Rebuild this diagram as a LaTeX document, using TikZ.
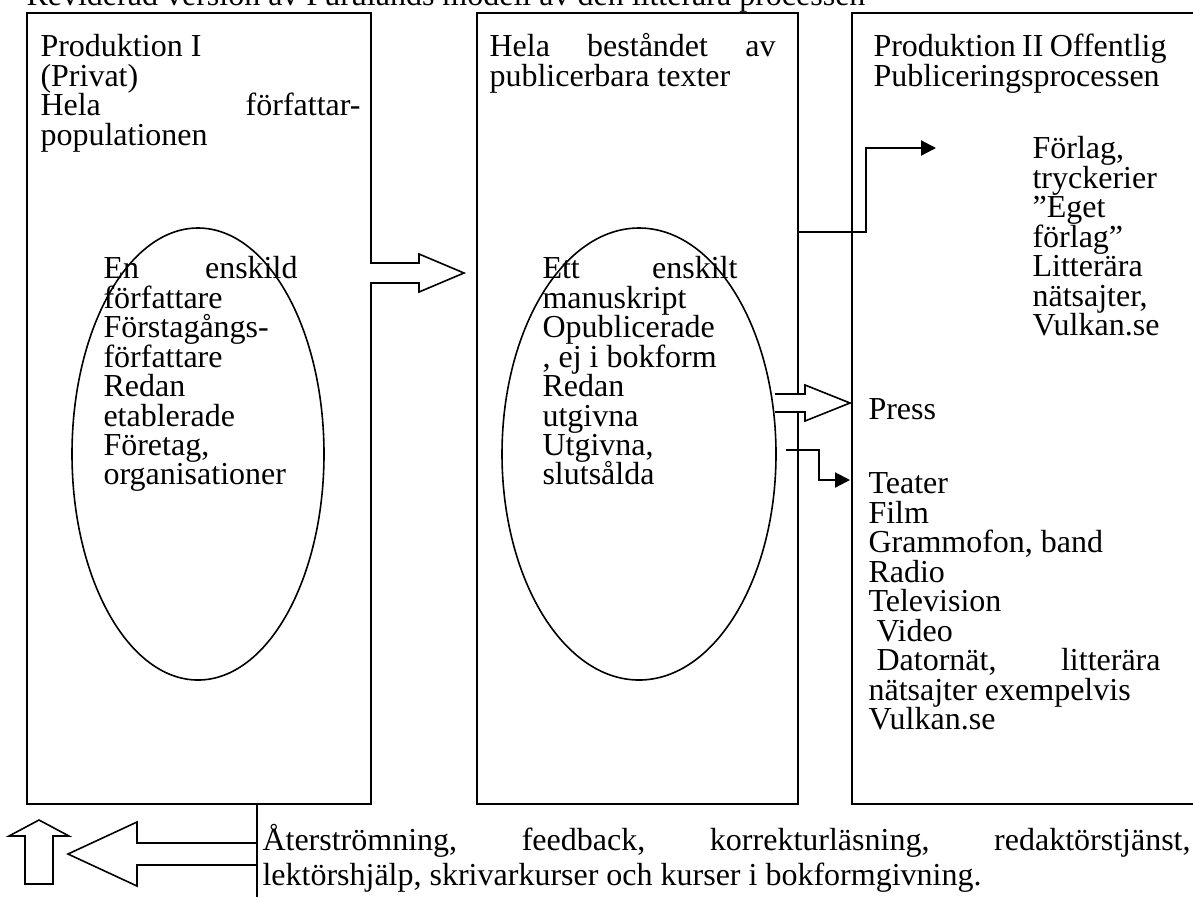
\documentclass[tikz,border=0pt]{standalone}
\usepackage{fontspec}
\setmainfont{Liberation Serif}
\usetikzlibrary{arrows.meta}
\usetikzlibrary{shapes.geometric}
\usetikzlibrary{positioning}
\newlength\pxu
\setlength\pxu{0.375pt}
\setlength\parindent{0pt}
\tolerance=9999
\hbadness=10000
\newcommand\topstrut{\rule{0pt}{30\pxu}}
\newcommand\diagfont{\fontsize{12}{11.06}\selectfont\lineskiplimit=-20pt\relax}
\newcommand\footfont{\fontsize{12}{13.1}\selectfont\lineskiplimit=-20pt\relax}

\begin{document}
\begin{tikzpicture}[
    x=\pxu, y=-\pxu,
    font=\diagfont
]
\tikzset{
    colbox/.style = {draw=black, line width=0.6pt, anchor=north west, inner sep=0pt},
    oval/.style = {ellipse, draw=black, line width=0.6pt, inner sep=0pt},
    txt/.style = {anchor=north west, inner sep=0pt, align=justify},
    txtl/.style = {anchor=north west, inner sep=0pt, align=left},
    blockarrow/.style = {draw=black, fill=white, line width=0.6pt, line join=miter},
    elbow/.style = {-{Triangle[length=5.6pt,width=5.6pt]}, line width=0.8pt}
}
\useasboundingbox (0,0) rectangle (1193,897);

% title (cut off at the top)
\node[anchor=base west, inner sep=0pt] (title) at (26,5)
    {Reviderad version av Furulands modell av den litterära processen};

% the three columns
\node[colbox, minimum width=344\pxu, minimum height=791\pxu] (prodone) at (26,12) {};
\node[colbox, minimum width=321\pxu, minimum height=791\pxu] (stock) at (476,12) {};
\node[colbox, minimum width=345\pxu, minimum height=791\pxu] (prodtwo) at (851,12) {};

\node[oval, minimum width=252\pxu, minimum height=452\pxu] (author) at (198,454) {};
\node[oval, minimum width=274\pxu, minimum height=452\pxu] (script) at (639,454) {};

% texts
\node[txt, text width=320\pxu] (prodonetxt) at (40,26)
    {\topstrut Produktion I\\(Privat)\\Hela författar-\linebreak populationen};
\node[txt, text width=194\pxu] (authortxt) at (103,248)
    {\topstrut En enskild\linebreak författare\\Förstagångs-\\författare\\Redan\\etablerade\\Företag,\\organisationer};
\node[txt, text width=286\pxu] (stocktxt) at (489,26)
    {\topstrut Hela beståndet av\linebreak publicerbara texter};
\node[txt, text width=195\pxu] (scripttxt) at (542,248)
    {\topstrut Ett enskilt\linebreak manuskript\\Opublicerade\\, ej i bokform\\Redan\\utgivna\\Utgivna,\\slutsålda};
\node[txt, text width=293\pxu] (prodtwotxt) at (873,26)
    {\topstrut Produktion II Offentlig\linebreak Publiceringsprocessen};
\node[txtl] (publisher) at (1032,128)
    {\topstrut Förlag,\\tryckerier\\”Eget\\förlag”\\Litterära\\nätsajter,\\Vulkan.se};
\node[txtl] (press) at (868,389) {\topstrut Press};
\node[txt, text width=292\pxu] (media) at (868,463)
    {\topstrut Teater\\Film\\Grammofon, band\\Radio\\Television\\\hspace*{.25em}Video\\\hspace*{.25em}Datornät, litterära\linebreak nätsajter exempelvis\\Vulkan.se};
\node[txt, text width=928\pxu, font=\footfont] (feedback) at (262,820)
    {\topstrut Återströmning, feedback, korrekturläsning, redaktörstjänst,\linebreak lektörshjälp, skrivarkurser och kurser i bokformgivning.};

% block arrows
\draw[blockarrow] (370,263) -- (419,263) -- (419,254) -- (464,273)
    -- (419,292) -- (419,283) -- (370,283);
\filldraw[blockarrow] (775,394) -- (805,394) -- (805,385) -- (850,403)
    -- (805,421) -- (805,412) -- (775,412);
\draw[blockarrow] (257,843) -- (137,843) -- (137,822) -- (68,854)
    -- (137,886) -- (137,865) -- (257,865);
\draw[blockarrow] (25,884) -- (25,836) -- (9,836) -- (39,820)
    -- (69,836) -- (53,836) -- (53,884) -- cycle;
\draw[line width=0.6pt] (257,803) -- (257,897);

% elbow arrows
\coordinate (pubin) at (797,232);
\coordinate (pubout) at (936,148);
\coordinate (mediain) at (786,450);
\coordinate (mediaout) at (850,480);
\draw[elbow] (pubin) -- ++(69,0) |- (pubout);
\draw[elbow] (mediain) -- ++(33,0) |- (mediaout);
\end{tikzpicture}
\end{document}
